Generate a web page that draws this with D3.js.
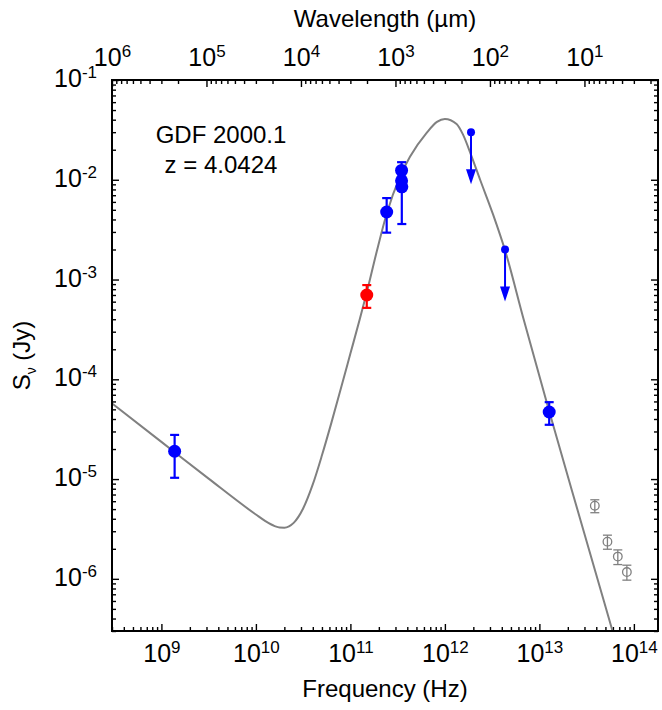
<!DOCTYPE html>
<html>
<head>
<meta charset="utf-8">
<script src="https://cdn.jsdelivr.net/npm/d3@7"></script>
<style>
  body { margin: 0; background: #fff; }
  svg { display: block; font-family: "Liberation Sans", Arial, Helvetica, sans-serif; }
</style>
</head>
<body>
<svg id="chart" width="662" height="710"></svg>
<script>
// ---- Model SED: synchrotron power law + dust bump (frequency in Hz, flux density in Jy)
const modelFreq = [3.0e8, 1.0e9, 3.16e9, 1.0e10, 1.26e10, 1.58e10, 1.78e10, 2.0e10, 2.24e10, 2.51e10,
  3.16e10, 3.98e10, 5.01e10, 6.31e10, 7.94e10, 1.0e11, 1.26e11, 1.49e11, 1.90e11, 2.42e11,
  3.34e11, 4.27e11, 6.41e11, 8.24e11, 1.0e12, 1.33e12, 1.56e12, 1.89e12, 2.36e12, 3.24e12,
  4.34e12, 6.73e12, 1.27e13, 2.70e13, 5.89e13, 7.33e13];
const modelFlux = [5.73e-5, 2.36e-5, 1.01e-5, 4.41e-6, 3.79e-6, 3.38e-6, 3.27e-6, 3.26e-6, 3.36e-6, 3.64e-6,
  5.07e-6, 8.73e-6, 1.74e-5, 3.70e-5, 8.13e-5, 1.81e-4, 4.04e-4, 7.41e-4, 1.91e-3, 4.57e-3,
  1.07e-2, 1.70e-2, 2.95e-2, 3.80e-2, 4.07e-2, 3.63e-2, 2.82e-2, 1.78e-2, 1.00e-2, 4.47e-3,
  1.95e-3, 4.17e-4, 4.79e-5, 3.98e-6, 3.09e-7, 1.51e-7];

// ---- Photometry (Hz, Jy)
const detFreq = [1.38e9, 2.42e11, 3.48e11, 3.48e11, 3.50e11, 1.27e13];
const detFlux = [1.9e-5, 4.75e-3, 1.24e-2, 9.77e-3, 8.5e-3, 4.7e-5];
const detErr  = [0.87e-5, 1.8e-3, 0.26e-2, 1.5e-3, 4.9e-3, 1.2e-5];

const mmFreq = [1.49e11];
const mmFlux = [7.0e-4];
const mmErr  = [1.8e-4];

const limFreq = [1.89e12, 4.33e12];
const limFlux = [3.0e-2, 2.0e-3];

const irFreq = [3.86e13, 5.25e13, 6.76e13, 8.43e13];
const irFlux = [5.4e-6, 2.36e-6, 1.67e-6, 1.17e-6];
const irErr  = [0.8e-6, 0.38e-6, 0.28e-6, 0.2e-6];

// ---- Axis labelling
const freqTickExps = [9, 10, 11, 12, 13, 14];
const waveTickExps = [6, 5, 4, 3, 2, 1];
const fluxTickExps = [-1, -2, -3, -4, -5, -6];
const freqDomain = [3e8, 1.8e14];
const fluxDomain = [3e-7, 0.1];
const C_UM_HZ = 2.998e14; // speed of light in micron * Hz

const sourceName = "GDF 2000.1";
const redshiftText = "z = 4.0424";
const xTitle = "Frequency (Hz)";
const topTitle = "Wavelength (\u00b5m)";

// ---- Layout
const L = 112, R = 658, T = 80, B = 631;
const BLUE = "#0000ff", RED = "#ff0000", GREY = "#808080";
const FONT = 25, SUP = 17;

const svg = d3.select("#chart");
const x = d3.scaleLog().domain(freqDomain).range([L, R]);
const y = d3.scaleLog().domain(fluxDomain).range([B, T]);
const xw = d3.scaleLog().domain([C_UM_HZ / freqDomain[0], C_UM_HZ / freqDomain[1]]).range([L, R]);

function logTicks(domain) {
  const lo = Math.min(...domain), hi = Math.max(...domain);
  const out = [];
  for (let e = Math.floor(Math.log10(lo)) - 1; e <= Math.ceil(Math.log10(hi)); e++) {
    for (let m = 1; m <= 9; m++) {
      const v = m * Math.pow(10, e);
      if (v >= lo * 0.9999 && v <= hi * 1.0001) out.push({ v, m, e });
    }
  }
  return out;
}
const minorOf = d => logTicks(d).filter(t => t.m !== 1).map(t => t.v);

function powLabel(textSel, expOf) {
  textSel.each(function (d) {
    const t = d3.select(this).text(null);
    t.append("tspan").text("10");
    t.append("tspan").attr("dy", -9).attr("font-size", SUP).text(expOf(d));
  });
}
function styleAxis(g) {
  g.select(".domain").remove();
  g.attr("font-family", null).attr("font-size", FONT);
  g.selectAll(".tick line").attr("stroke", "#000").attr("stroke-width", 1.4);
  g.selectAll(".tick text").attr("fill", "#000");
}
const expo = v => Math.round(Math.log10(v));

// Bottom: frequency
svg.append("g").attr("transform", `translate(0,${B})`)
  .call(d3.axisBottom(x).tickValues(minorOf(freqDomain)).tickSize(-4).tickFormat(() => ""))
  .call(styleAxis);
const gxb = svg.append("g").attr("transform", `translate(0,${B})`)
  .call(d3.axisBottom(x).tickValues(freqTickExps.map(e => Math.pow(10, e))).tickSize(-7))
  .call(styleAxis);
gxb.selectAll(".tick text").attr("y", 31).attr("dy", null).call(powLabel, expo);

// Top: wavelength
svg.append("g").attr("transform", `translate(0,${T})`)
  .call(d3.axisTop(xw).tickValues(minorOf(xw.domain())).tickSize(-4).tickFormat(() => ""))
  .call(styleAxis);
const gxt = svg.append("g").attr("transform", `translate(0,${T})`)
  .call(d3.axisTop(xw).tickValues(waveTickExps.map(e => Math.pow(10, e))).tickSize(-7))
  .call(styleAxis);
gxt.selectAll(".tick text").attr("y", -14).attr("dy", null).call(powLabel, expo);

// Left: flux density
svg.append("g").attr("transform", `translate(${L},0)`)
  .call(d3.axisLeft(y).tickValues(minorOf(fluxDomain)).tickSize(-4).tickFormat(() => ""))
  .call(styleAxis);
const gyl = svg.append("g").attr("transform", `translate(${L},0)`)
  .call(d3.axisLeft(y).tickValues(fluxTickExps.map(e => Math.pow(10, e))).tickSize(-7))
  .call(styleAxis);
gyl.selectAll(".tick text").attr("x", -15).attr("y", 6.5).attr("dy", null).call(powLabel, expo);

// Right: mirrored ticks
svg.append("g").attr("transform", `translate(${R},0)`)
  .call(d3.axisRight(y).tickValues(minorOf(fluxDomain)).tickSize(-4).tickFormat(() => ""))
  .call(styleAxis);
svg.append("g").attr("transform", `translate(${R},0)`)
  .call(d3.axisRight(y).tickValues(fluxTickExps.map(e => Math.pow(10, e))).tickSize(-7).tickFormat(() => ""))
  .call(styleAxis);

// Plot area clip
svg.append("clipPath").attr("id", "plotClip")
  .append("rect").attr("x", L).attr("y", T).attr("width", R - L).attr("height", B - T);
const plot = svg.append("g").attr("clip-path", "url(#plotClip)");

// Model curve
const model = modelFreq.map((f, i) => ({ f, s: modelFlux[i] }));
plot.append("path").datum(model)
  .attr("fill", "none").attr("stroke", GREY).attr("stroke-width", 2)
  .attr("d", d3.line().x(d => x(d.f)).y(d => y(d.s)).curve(d3.curveMonotoneX));

// Error bars with caps
function errorBars(freqs, fluxes, errs, color, width, capHalf) {
  const data = freqs.map((f, i) => ({ f, s: fluxes[i], e: errs[i] }));
  const g = plot.append("g").attr("stroke", color).attr("stroke-width", width).attr("fill", "none");
  const eb = g.selectAll("g").data(data).join("g");
  eb.append("line").attr("x1", d => x(d.f)).attr("x2", d => x(d.f))
    .attr("y1", d => y(d.s + d.e)).attr("y2", d => y(Math.max(d.s - d.e, 1e-12)));
  eb.append("line").attr("x1", d => x(d.f) - capHalf).attr("x2", d => x(d.f) + capHalf)
    .attr("y1", d => y(d.s + d.e)).attr("y2", d => y(d.s + d.e));
  eb.append("line").attr("x1", d => x(d.f) - capHalf).attr("x2", d => x(d.f) + capHalf)
    .attr("y1", d => y(d.s - d.e)).attr("y2", d => y(d.s - d.e));
  return data;
}

// Grey IRAC-band points (open circles)
const irData = errorBars(irFreq, irFlux, irErr, GREY, 1.3, 4.5);
plot.append("g").selectAll("circle").data(irData).join("circle")
  .attr("cx", d => x(d.f)).attr("cy", d => y(d.s)).attr("r", 4.3)
  .attr("fill", "none").attr("stroke", GREY).attr("stroke-width", 1.3);

// Blue detections
const detData = errorBars(detFreq, detFlux, detErr, BLUE, 2.2, 4.5);
plot.append("g").selectAll("circle").data(detData).join("circle")
  .attr("cx", d => x(d.f)).attr("cy", d => y(d.s)).attr("r", 6.5).attr("fill", BLUE);

// Red millimetre point
const mmData = errorBars(mmFreq, mmFlux, mmErr, RED, 2.2, 4.5);
plot.append("g").selectAll("circle").data(mmData).join("circle")
  .attr("cx", d => x(d.f)).attr("cy", d => y(d.s)).attr("r", 6.5).attr("fill", RED);

// Upper limits: small dot with downward arrow
const limData = limFreq.map((f, i) => ({ f, s: limFlux[i] }));
const lim = plot.append("g").selectAll("g").data(limData).join("g");
const ARROW_LEN = 52, HEAD_LEN = 15, HEAD_HALF = 5;
lim.append("line").attr("x1", d => x(d.f)).attr("x2", d => x(d.f))
  .attr("y1", d => y(d.s)).attr("y2", d => y(d.s) + ARROW_LEN - HEAD_LEN + 1)
  .attr("stroke", BLUE).attr("stroke-width", 2);
lim.append("path").attr("fill", BLUE)
  .attr("d", d => {
    const cx = x(d.f), tip = y(d.s) + ARROW_LEN;
    return `M${cx - HEAD_HALF},${tip - HEAD_LEN}L${cx + HEAD_HALF},${tip - HEAD_LEN}L${cx},${tip}Z`;
  });
lim.append("circle").attr("cx", d => x(d.f)).attr("cy", d => y(d.s)).attr("r", 4).attr("fill", BLUE);

// Frame
svg.append("rect").attr("x", L).attr("y", T).attr("width", R - L).attr("height", B - T)
  .attr("fill", "none").attr("stroke", "#000").attr("stroke-width", 2);

// Titles
svg.append("text").attr("x", (L + R) / 2).attr("y", 697).attr("text-anchor", "middle")
  .attr("font-size", 24).text(xTitle);
svg.append("text").attr("x", (L + R) / 2).attr("y", 27).attr("text-anchor", "middle")
  .attr("font-size", 24).text(topTitle);
const yt = svg.append("text").attr("transform", `translate(30,${(T + B) / 2}) rotate(-90)`)
  .attr("text-anchor", "middle").attr("font-size", 24);
yt.append("tspan").text("S");
yt.append("tspan").attr("font-size", 14).attr("dy", 6).text("\u03bd");
yt.append("tspan").attr("dy", -6).text(" (Jy)");

// Source annotation
svg.append("text").attr("x", 221).attr("y", 143).attr("text-anchor", "middle")
  .attr("font-size", 24).text(sourceName);
svg.append("text").attr("x", 221).attr("y", 173).attr("text-anchor", "middle")
  .attr("font-size", 24).text(redshiftText);
</script>
</body>
</html>
